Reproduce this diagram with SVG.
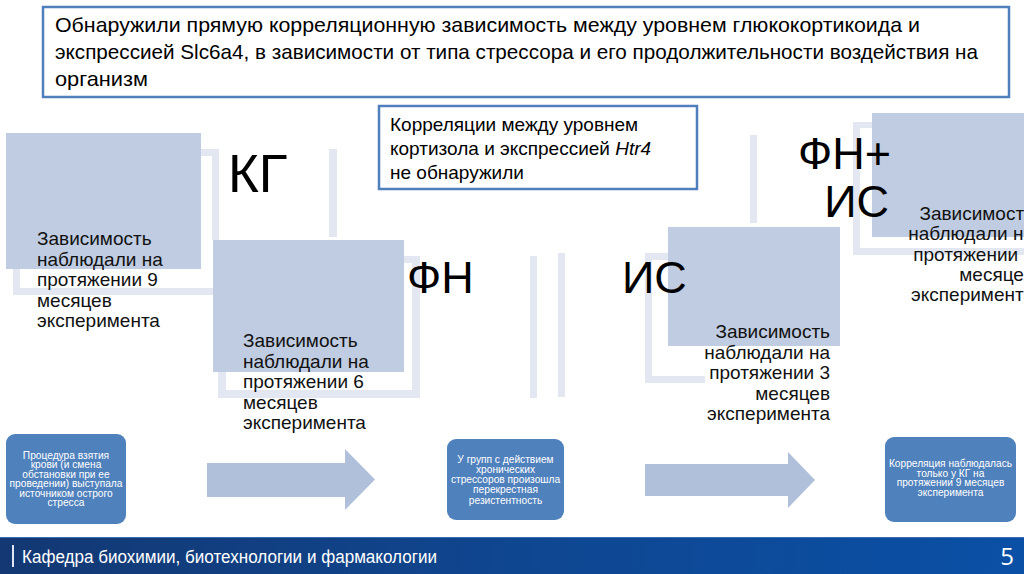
<svg xmlns="http://www.w3.org/2000/svg" width="1024" height="574" viewBox="0 0 1024 574">
<defs>
<linearGradient id="foot" x1="0" y1="0" x2="1" y2="0">
<stop offset="0" stop-color="#133873"/>
<stop offset="0.5" stop-color="#0f4690"/>
<stop offset="1" stop-color="#0a50a6"/>
</linearGradient>
<style>
.frame{fill:#e2e7f1}
.blk{fill:#c0cce1}
.lbl{font-family:"Liberation Sans",Arial,sans-serif;fill:#000}
.big{font-size:45px}
.bt{font-family:"Liberation Sans",Arial,sans-serif;font-size:19px;fill:#111}
.box{fill:#fff;stroke:#4f7fbd;stroke-width:2.5}
.rb{fill:#4f81bd}
.wt{font-family:"Liberation Sans",Arial,sans-serif;font-size:10.2px;fill:#fff;text-anchor:middle}
.arr{fill:#b1c0da}
</style>
</defs>
<rect width="1024" height="574" fill="#fff"/>

<g id="decor">
<!-- frame A -->
<rect class="frame" x="13" y="149" width="7" height="146"/>
<rect class="frame" x="13" y="288" width="200" height="7"/>
<rect class="frame" x="201" y="149" width="18" height="7"/>
<rect class="frame" x="212" y="149" width="7" height="91"/>
<!-- frame B -->
<rect class="frame" x="218" y="256" width="8" height="142"/>
<rect class="frame" x="218" y="390" width="202" height="8"/>
<rect class="frame" x="400" y="256" width="20" height="7"/>
<rect class="frame" x="412" y="256" width="8" height="142"/>
<!-- separators -->
<rect class="frame" x="329" y="149" width="8" height="88"/>
<rect class="frame" x="530" y="256" width="7" height="142"/>
<rect class="frame" x="558" y="253" width="7" height="144"/>
<rect class="frame" x="750" y="135" width="7" height="88"/>
<!-- frame C -->
<rect class="frame" x="645" y="253" width="23" height="7"/>
<rect class="frame" x="645" y="253" width="7" height="130"/>
<rect class="frame" x="645" y="376" width="60" height="7"/>
<!-- frame D -->
<rect class="frame" x="853" y="122" width="19" height="6"/>
<rect class="frame" x="853" y="122" width="7" height="133"/>
<rect class="frame" x="853" y="248" width="171" height="7"/>
</g>

<g id="header">
<rect class="box" x="43" y="7" width="966" height="90"/>
<g class="lbl" font-size="21">
<text x="55" y="32" textLength="865" lengthAdjust="spacingAndGlyphs">Обнаружили прямую корреляционную зависимость между уровнем глюкокортикоида и</text>
<text x="55" y="59" textLength="923" lengthAdjust="spacingAndGlyphs">экспрессией Slc6a4, в зависимости от типа стрессора и его продолжительности воздействия на</text>
<text x="55" y="86" textLength="93" lengthAdjust="spacingAndGlyphs">организм</text>
</g>
</g>

<g id="note-htr4">
<rect class="box" x="379" y="106" width="318" height="83"/>
<g class="lbl" font-size="19">
<text x="390" y="131">Корреляции между уровнем</text>
<text x="390" y="155">кортизола и экспрессией <tspan font-style="italic">Htr4</tspan></text>
<text x="390" y="179">не обнаружили</text>
</g>
</g>

<g id="node-kg">
<rect class="blk" x="6" y="133" width="195" height="136"/>
<text class="lbl" x="228" y="192" font-size="53">КГ</text>
</g>

<g id="node-fn">
<rect class="blk" x="213" y="240" width="191" height="132"/>
<text class="lbl big" x="407" y="293" font-size="44">ФН</text>
</g>

<g id="node-is">
<rect class="blk" x="668" y="227" width="172" height="119"/>
<text class="lbl big" x="622" y="293">ИС</text>
</g>

<g id="node-fnis">
<rect class="blk" x="872" y="113" width="152" height="124"/>
<text class="lbl big" x="891" y="169" text-anchor="end">ФН+</text>
<text class="lbl big" x="889" y="217" text-anchor="end">ИС</text>
</g>

<g id="texts">
<g class="bt">
<text x="37" y="245">Зависимость</text>
<text x="37" y="265.5">наблюдали на</text>
<text x="37" y="286">протяжении 9</text>
<text x="37" y="306.5">месяцев</text>
<text x="37" y="327">эксперимента</text>
</g>
<g class="bt">
<text x="243" y="347">Зависимость</text>
<text x="243" y="367.5">наблюдали на</text>
<text x="243" y="388">протяжении 6</text>
<text x="243" y="408.5">месяцев</text>
<text x="243" y="429">эксперимента</text>
</g>
<g class="bt" text-anchor="end">
<text x="830" y="338">Зависимость</text>
<text x="830" y="358.5">наблюдали на</text>
<text x="830" y="379">протяжении 3</text>
<text x="830" y="399.5">месяцев</text>
<text x="830" y="420">эксперимента</text>
</g>
<g class="bt" text-anchor="end">
<text x="1034" y="220">Зависимость</text>
<text x="1034" y="240">наблюдали на</text>
<text x="1034" y="260.5">протяжении 9</text>
<text x="1034" y="280.5">месяцев</text>
<text x="1034" y="300.5">эксперимента</text>
</g>
</g>

<g id="box-acute">
<rect class="rb" x="6" y="434" width="120" height="90" rx="9"/>
<text class="wt" x="66" y="458.5">Процедура взятия</text>
<text class="wt" x="66" y="468">крови (и смена</text>
<text class="wt" x="66" y="477.5">обстановки при ее</text>
<text class="wt" x="66" y="487">проведении) выступала</text>
<text class="wt" x="66" y="496.5">источником острого</text>
<text class="wt" x="66" y="506">стресса</text>
</g>

<g id="box-cross">
<rect class="rb" x="447" y="439" width="117" height="81" rx="9"/>
<text class="wt" x="505.5" y="462.5">У групп с действием</text>
<text class="wt" x="505.5" y="472.8">хронических</text>
<text class="wt" x="505.5" y="483">стрессоров произошла</text>
<text class="wt" x="505.5" y="493.3">перекрестная</text>
<text class="wt" x="505.5" y="503.5">резистентность</text>
</g>

<g id="box-kg">
<rect class="rb" x="885" y="437" width="131" height="85" rx="9"/>
<text class="wt" x="950.5" y="467">Корреляция наблюдалась</text>
<text class="wt" x="950.5" y="476.5">только у КГ на</text>
<text class="wt" x="950.5" y="486">протяжении 9 месяцев</text>
<text class="wt" x="950.5" y="495.5">эксперимента</text>
</g>

<g id="connectors">
<polygon class="arr" points="207,463 345,463 345,449 375,479.5 345,510 345,497 207,497"/>
<polygon class="arr" points="645,464 788,464 788,452 815,480 788,508 788,496 645,496"/>
</g>

<g id="footer">
<rect x="0" y="537" width="1024" height="37" fill="url(#foot)"/>
<rect x="0" y="537" width="1024" height="1" fill="#3c6cb0"/>
<rect x="12" y="545" width="2" height="22" fill="#dfe7f3"/>
<text x="22" y="563" font-family="Liberation Sans,Arial,sans-serif" font-size="17.5" fill="#fff" textLength="415" lengthAdjust="spacingAndGlyphs">Кафедра биохимии, биотехнологии и фармакологии</text>
<text x="1014" y="565" font-family="Open Sans,Liberation Sans,sans-serif" font-size="24" fill="#fff" text-anchor="end">5</text>
</g>
</svg>
